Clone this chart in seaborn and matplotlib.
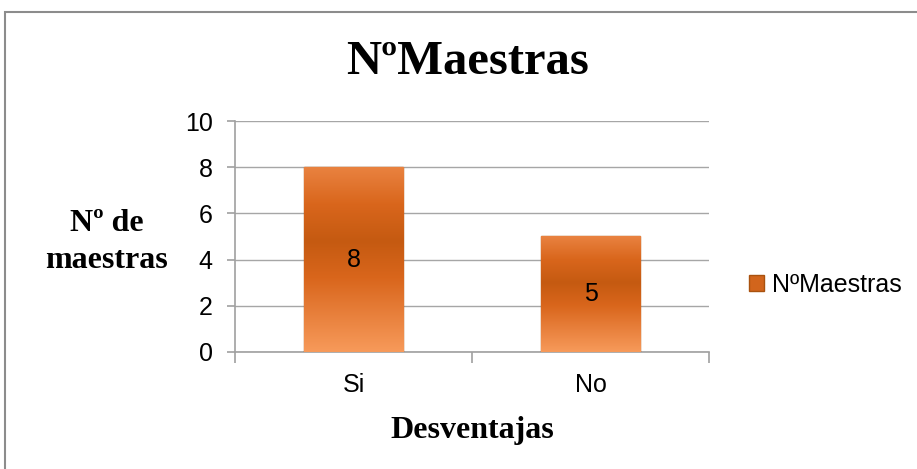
import matplotlib
matplotlib.use("Agg")
import matplotlib.pyplot as plt
import numpy as np
import pandas as pd
import seaborn as sns
from matplotlib.patches import Rectangle, Patch
from matplotlib.colors import LinearSegmentedColormap

# Data
categories = ["Si", "No"]
values = [8, 5]
series_name = "NºMaestras"
y_ticks = [0, 2, 4, 6, 8, 10]

df = pd.DataFrame({"Desventajas": categories, "valor": values, "serie": series_name})

sns.set_style("white")
plt.rcParams["font.family"] = ["Liberation Sans", "DejaVu Sans"]
for key in ["text.color", "axes.labelcolor", "xtick.labelcolor", "ytick.labelcolor"]:
    plt.rcParams[key] = "black"

fig = plt.figure(figsize=(9.17, 4.69), dpi=100)
ax = fig.add_axes([0.2563, 0.2495, 0.5169, 0.4925])

sns.barplot(data=df, x="Desventajas", y="valor", hue="serie", width=0.42,
            palette=["#D2651C"], edgecolor="#A9520F", linewidth=1.0,
            legend=False, ax=ax, zorder=3)

# Gradient fill inside bars to mimic the bevelled look
cmap = LinearSegmentedColormap.from_list(
    "bevel", ["#E98240", "#D9661C", "#C55A11", "#D9661C", "#E8803C", "#F79A5A"])
grad = np.linspace(0, 1, 256).reshape(-1, 1)
for bar in ax.patches:
    x0, y0 = bar.get_x(), bar.get_y()
    w, h = bar.get_width(), bar.get_height()
    im = ax.imshow(grad, cmap=cmap, aspect="auto", origin="upper",
                   extent=[x0, x0 + w, y0, y0 + h], zorder=3.5)
    im.set_clip_path(bar)

# Value labels in the middle of each bar
for i, v in enumerate(values):
    ax.text(i, v / 2, str(v), ha="center", va="center", fontsize=18,
            color="black", zorder=5)

ax.set_xlim(-0.5, 1.5)
ax.set_ylim(0, 10)
ax.set_yticks(y_ticks)
ax.yaxis.grid(True, color="#A6A6A6", linewidth=1.0, zorder=0)
ax.set_axisbelow(True)

for side in ["top", "right"]:
    ax.spines[side].set_visible(False)
for side in ["left", "bottom"]:
    ax.spines[side].set_color("#A0A0A0")
    ax.spines[side].set_linewidth(1.2)

ax.tick_params(axis="y", length=6, width=1.2, color="#A0A0A0", pad=10,
               labelsize=18, left=True)
ax.tick_params(axis="x", which="major", length=0, pad=15, labelsize=18)
ax.set_xticks([-0.5, 0.5, 1.5], minor=True)
ax.tick_params(axis="x", which="minor", length=8, width=1.2, color="#A0A0A0",
               bottom=True)

ax.set_xlabel("Desventajas", fontsize=23, fontweight="bold",
              family="Liberation Serif", labelpad=14)
ax.set_ylabel("")
fig.text(107 / 917, 1 - 242 / 469, "Nº de\nmaestras", ha="center", va="center",
         fontsize=23, fontweight="bold", family="Liberation Serif",
         linespacing=1.4)

fig.text(468 / 917, 1 - 62 / 469, "NºMaestras", ha="center", va="center",
         fontsize=35, fontweight="bold", family="Liberation Serif")

handles = [Patch(facecolor="#D2651C", edgecolor="#A9520F", label=series_name)]
fig.legend(handles=handles, loc="center left",
           bbox_to_anchor=(749 / 917, 1 - 285 / 469), frameon=False,
           fontsize=18, handlelength=0.6, handleheight=0.6,
           handletextpad=0.3, borderaxespad=0, borderpad=0)

# Outer chart frame
fig.patches.append(Rectangle((5 / 917, -0.05), 1.0, 1 - 12 / 469 + 0.05,
                             transform=fig.transFigure, fill=False,
                             edgecolor="#8C8C8C", linewidth=1.5))

fig.savefig("out.png", dpi=100)
